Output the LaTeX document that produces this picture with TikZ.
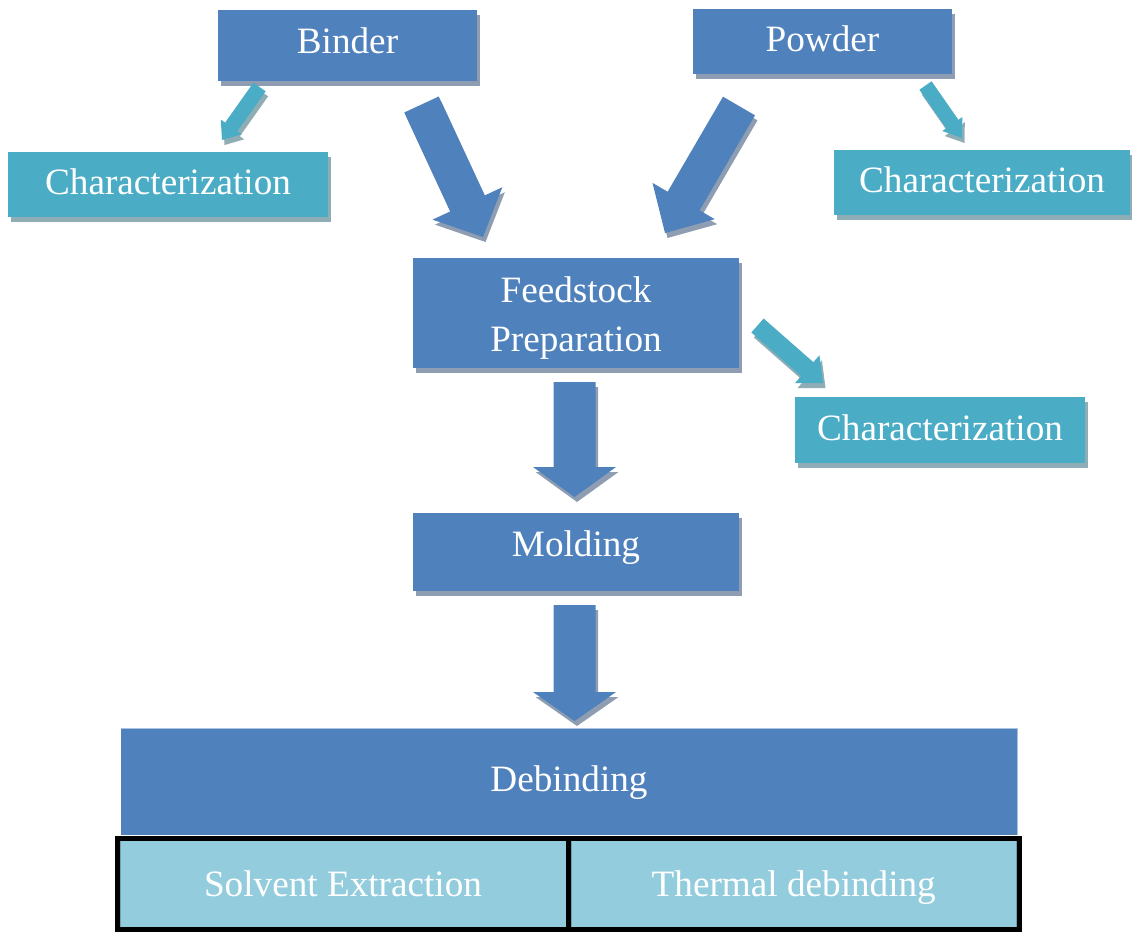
\documentclass[tikz,border=0pt]{standalone}
\usepackage{fontspec}
\setmainfont{Liberation Serif}
\usetikzlibrary{calc,shadows}

\definecolor{boxblue}{HTML}{4F81BD}
\definecolor{boxcyan}{HTML}{4BACC6}
\definecolor{celllight}{HTML}{93CDDD}
\definecolor{shadeblue}{HTML}{8E9DB1}
\definecolor{shadecyan}{HTML}{8FADB5}
\definecolor{cellline}{HTML}{6FA3B3}
\definecolor{topline}{HTML}{A9C2DF}

\tikzset{
  every node/.style={inner sep=0pt, outer sep=0pt, text=white,
    font=\fontsize{37.2}{49}\selectfont},
  oneline/.style={text height=28pt, text depth=8pt},
  bluebox/.style={fill=boxblue,
    drop shadow={shadow xshift=2.5pt, shadow yshift=-5pt, fill=shadeblue, opacity=1}},
  cyanbox/.style={fill=boxcyan,
    drop shadow={shadow xshift=2.5pt, shadow yshift=-5pt, fill=shadecyan, opacity=1}},
  cellbox/.style={fill=celllight, draw=cellline, line width=0.8pt, oneline},
  frameline/.style={draw=black, line width=5pt},
}

% outline of a block arrow: tail, tip, half shaft width, half head width, head length
\newcommand\arrowoutline[5]{%
  ($(#1)!#3!90:(#2)$) -- ($($(#2)!#5!(#1)$)!#3!90:(#2)$)
  -- ($($(#2)!#5!(#1)$)!#4!90:(#2)$) -- (#2)
  -- ($($(#2)!#5!(#1)$)!#4!-90:(#2)$) -- ($($(#2)!#5!(#1)$)!#3!-90:(#2)$)
  -- ($(#1)!#3!-90:(#2)$) -- cycle}

% block arrow with its offset shadow
\newcommand\blockarrow[7]{%
  \begin{scope}[transform canvas={xshift=2.5pt, yshift=-5pt}]
    \fill[#7] \arrowoutline{#1}{#2}{#3}{#4}{#5};
  \end{scope}
  \fill[#6] \arrowoutline{#1}{#2}{#3}{#4}{#5};
}

\begin{document}
\begin{tikzpicture}[x=1pt, y=-1pt]
  \useasboundingbox (0,0) rectangle (1132,932);

  % boxes
  \node (binder) [bluebox, oneline, minimum width=259pt, minimum height=71pt] at (347.5,45.5) {\raisebox{2pt}{Binder}};
  \node (powder) [bluebox, oneline, minimum width=259pt, minimum height=65pt] at (822.5,41.5) {Powder};
  \node (charL) [cyanbox, oneline, minimum width=320pt, minimum height=65pt] at (168,184.5) {Characterization};
  \node (charR) [cyanbox, oneline, minimum width=296pt, minimum height=65pt] at (982,182.5) {Characterization};
  \node (feed) [bluebox, align=center, minimum width=326pt, minimum height=110pt] at (576,313) {\rule{0pt}{35pt}Feedstock\\Preparation};
  \node (charM) [cyanbox, oneline, minimum width=290pt, minimum height=66pt] at (940,430) {Characterization};
  \node (molding) [bluebox, oneline, minimum width=326pt, minimum height=78pt] at (576,552) {\raisebox{6pt}{Molding}};
  \node (debind) [fill=boxblue, oneline, minimum width=896pt, minimum height=107pt] at (569,781.5) {Debinding};
  \draw[topline, line width=0.8pt] (debind.south east) -- (debind.north east) -- (debind.north west);

  % debinding routes
  \node (solvent) [cellbox, minimum width=446pt, minimum height=86.5pt] at (343,883.75) {\raisebox{-3pt}{Solvent Extraction}};
  \node (thermal) [cellbox, minimum width=445.5pt, minimum height=86.5pt] at (793.75,883.75) {\raisebox{-3pt}{Thermal debinding}};
  \node (table) [frameline, minimum width=901.5pt, minimum height=91.5pt] at (568.25,883.75) {};
  \draw[frameline] (table.north) -- (table.south);

  % arrow end points
  \coordinate (bsT) at (259.5,87);   \coordinate (bsH) at (222,140);
  \coordinate (psT) at (925.5,85.5); \coordinate (psH) at (962,138);
  \coordinate (bbT) at (421.5,104.5); \coordinate (bbH) at (483,237);
  \coordinate (pbT) at (739,106);    \coordinate (pbH) at (665,233);
  \coordinate (fmT) at (757.5,325.5); \coordinate (fmH) at (823,383);
  \coordinate (d1T) at (574.5,382);  \coordinate (d1H) at (574.5,497);
  \coordinate (d2T) at (574.5,605);  \coordinate (d2H) at (574.5,721);

  % arrows
  \blockarrow{bsT}{bsH}{7.5pt}{12.8pt}{16pt}{boxcyan}{shadecyan}
  \blockarrow{psT}{psH}{7.4pt}{12.2pt}{17pt}{boxcyan}{shadecyan}
  \blockarrow{fmT}{fmH}{9.3pt}{18.5pt}{21pt}{boxcyan}{shadecyan}
  \blockarrow{bbT}{bbH}{19pt}{38.5pt}{37pt}{boxblue}{shadeblue}
  \blockarrow{pbT}{pbH}{18.5pt}{36pt}{37pt}{boxblue}{shadeblue}
  \blockarrow{d1T}{d1H}{21pt}{41.5pt}{30pt}{boxblue}{shadeblue}
  \blockarrow{d2T}{d2H}{21pt}{41.5pt}{29pt}{boxblue}{shadeblue}
\end{tikzpicture}
\end{document}
